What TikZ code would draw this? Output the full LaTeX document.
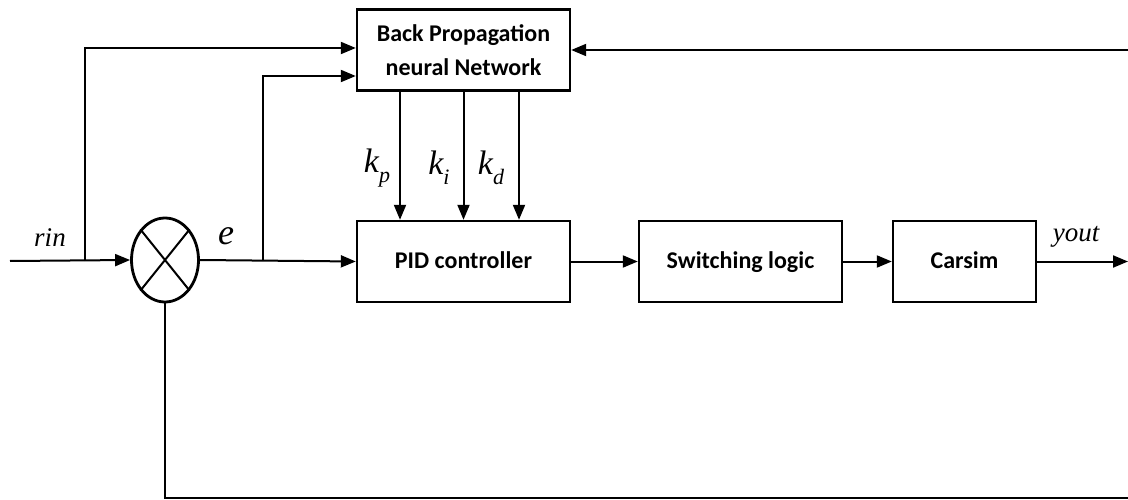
\documentclass[tikz,border=0pt]{standalone}
\usepackage{fontspec}
\setmainfont{Carlito}
\newfontfamily\tnr{Liberation Serif}
\usetikzlibrary{arrows.meta,shapes.geometric}
\newcommand\gain[2]{{\tnr\itshape\fontsize{34}{34}\selectfont #1\raisebox{-0.3em}{\fontsize{22}{22}\selectfont #2}}}

\begin{document}
\begin{tikzpicture}[x=1pt,y=-1pt,
    block/.style={draw,line width=2.4pt,rectangle,minimum height=81pt,
      font=\fontsize{24}{34}\selectfont\bfseries},
    oneline/.style={block,text height=19pt,text depth=4pt},
    arr/.style={line width=2pt,-{Triangle[length=15pt,width=12pt]}},
    sig/.style={font=\tnr\itshape\fontsize{27}{27}\selectfont}]
            \useasboundingbox (0,0) rectangle (1128,500);

            \node[block,align=center,minimum width=213pt] (bpnn) at (463.5,50) {Back Propagation\\neural Network};
            \node[oneline,minimum width=213pt] (pid) at (463.5,261.5) {PID controller};
            \node[oneline,minimum width=203pt] (switch) at (740.5,261.5) {Switching logic};
            \node[oneline,minimum width=143pt] (carsim) at (964.5,261.5) {Carsim};
            \node[draw,ellipse,line width=2.8pt,minimum width=67pt,minimum height=84pt,inner sep=0pt] (sum) at (165,260) {};
            \draw[line width=2pt] (sum.north west)--(sum.south east) (sum.north east)--(sum.south west);

            \coordinate (in) at (10,261);
            \coordinate (rbr) at (85,261);
            \coordinate (ebr) at (263,261);
            \coordinate (out) at (1128,261.5);
            \coordinate (fbtop) at (1128,50);
            \coordinate (fbbot) at (1128,498);

            \draw[arr] (in)--(sum.west);
            \draw[arr] (rbr)|-([yshift=2pt]bpnn.west);
            \draw[arr] (sum.east)--(pid.west);
            \draw[arr] (ebr)|-([yshift=-26pt]bpnn.west);
            \foreach \dx in {-63.5,0,55.5}
                \draw[arr] ([xshift=\dx pt]bpnn.south)--([xshift=\dx pt]pid.north);
            \draw[arr] (pid.east)--(switch.west);
            \draw[arr] (switch.east)--(carsim.west);
            \draw[arr] (carsim.east)--(out);
            \draw[arr] (fbtop)--(bpnn.east);
            \draw[line width=2pt] (sum.south)|-(fbbot);

            \node[sig] (rinlbl) at (50,238) {rin};
            \node[font=\tnr\itshape\fontsize{36}{36}\selectfont] (elbl) at (226,236) {e};
            \node[sig] (youtlbl) at (1076,237) {yout};
            \node (kp) at (377,168) {\gain{k}{p}};
            \node (ki) at (439,168) {\gain{k}{i}};
            \node (kd) at (491,168) {\gain{k}{d}};
        \end{tikzpicture}
\end{document}
